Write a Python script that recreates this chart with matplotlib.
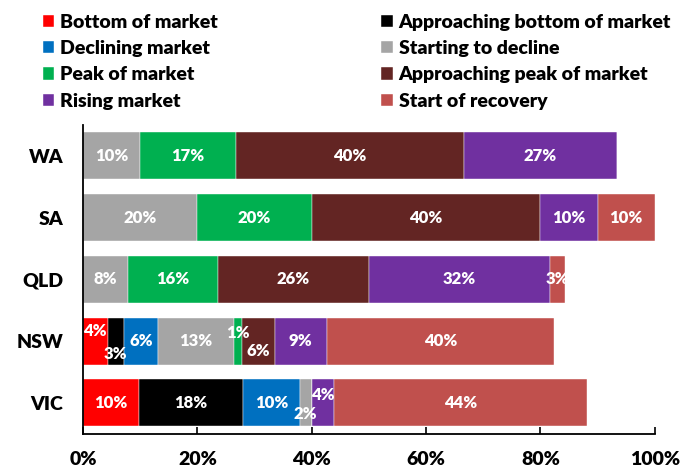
import matplotlib
matplotlib.use("Agg")
import matplotlib.pyplot as plt
import numpy as np

plt.rcParams['font.family'] = ['Lato', 'DejaVu Sans']

states = ['WA', 'SA', 'QLD', 'NSW', 'VIC']

# stage shares per state, in the order of the states list (percent)
bottom = [0, 0, 0, 4.3, 9.8]
approaching_bottom = [0, 0, 0, 2.9, 18.2]
declining = [0, 0, 0, 5.9, 9.9]
starting_decline = [10.0, 20.0, 7.9, 13.3, 2.1]
peak = [16.7, 20.0, 15.7, 1.4, 0]
approaching_peak = [39.9, 40.0, 26.4, 5.8, 0]
rising = [26.8, 10.0, 31.6, 9.0, 3.9]
recovery = [0, 10.0, 2.7, 39.8, 44.2]

series = [
    ('Bottom of market', bottom, '#FF0000'),
    ('Approaching bottom of market', approaching_bottom, '#000000'),
    ('Declining market', declining, '#0070C0'),
    ('Starting to decline', starting_decline, '#A5A5A5'),
    ('Peak of market', peak, '#00B050'),
    ('Approaching peak of market', approaching_peak, '#632523'),
    ('Rising market', rising, '#7030A0'),
    ('Start of recovery', recovery, '#C0504D'),
]

# small labels nudged up/down (points) so they don't collide
nudge = {
    ('NSW', 'Bottom of market'): 7,
    ('NSW', 'Approaching bottom of market'): -9,
    ('NSW', 'Peak of market'): 6,
    ('NSW', 'Approaching peak of market'): -7,
    ('VIC', 'Starting to decline'): -8,
    ('VIC', 'Rising market'): 6,
}

W = 'heavy'

fig = plt.figure(figsize=(6.8, 4.68), dpi=100)
ax = fig.add_axes([0.122, 0.073, 0.841, 0.66])

y = np.arange(len(states))[::-1]
left = np.zeros(len(states))
handles = {}
for name, vals, color in series:
    vals = np.array(vals, dtype=float)
    bars = ax.barh(y, vals, left=left, height=0.76, color=color,
                   edgecolor='white', linewidth=0.3, label=name)
    handles[name] = bars
    for i, v in enumerate(vals):
        if v <= 0:
            continue
        dy = nudge.get((states[i], name), 0)
        ax.annotate(f'{v:.0f}%', (left[i] + v / 2, y[i]), xytext=(0, dy),
                    textcoords='offset points', ha='center', va='center',
                    color='white', fontsize=12, fontweight=W)
    left += vals

ax.set_xlim(0, 100)
ax.set_ylim(-0.5, 4.5)
ax.set_yticks(y)
ax.set_yticklabels(states, fontsize=14, fontweight=W)
ax.set_xticks(np.arange(0, 101, 20))
ax.set_xticklabels([f'{t}%' for t in range(0, 101, 20)], fontsize=14, fontweight=W)
ax.tick_params(axis='y', length=0, pad=14)
ax.tick_params(axis='x', direction='in', length=5, width=1.2, pad=12)
for s in ['top', 'right']:
    ax.spines[s].set_visible(False)
for s in ['left', 'bottom']:
    ax.spines[s].set_linewidth(1.3)

order = ['Bottom of market', 'Declining market', 'Peak of market', 'Rising market',
         'Approaching bottom of market', 'Starting to decline',
         'Approaching peak of market', 'Start of recovery']
leg = fig.legend([handles[n] for n in order], order, loc='upper left',
                 bbox_to_anchor=(0.037, 1.008), ncol=2, frameon=False,
                 prop={'size': 14, 'weight': W},
                 handlelength=0.6, handleheight=0.6, handletextpad=0.3,
                 columnspacing=8.4, labelspacing=0.48)

fig.savefig('out.png', dpi=100)
